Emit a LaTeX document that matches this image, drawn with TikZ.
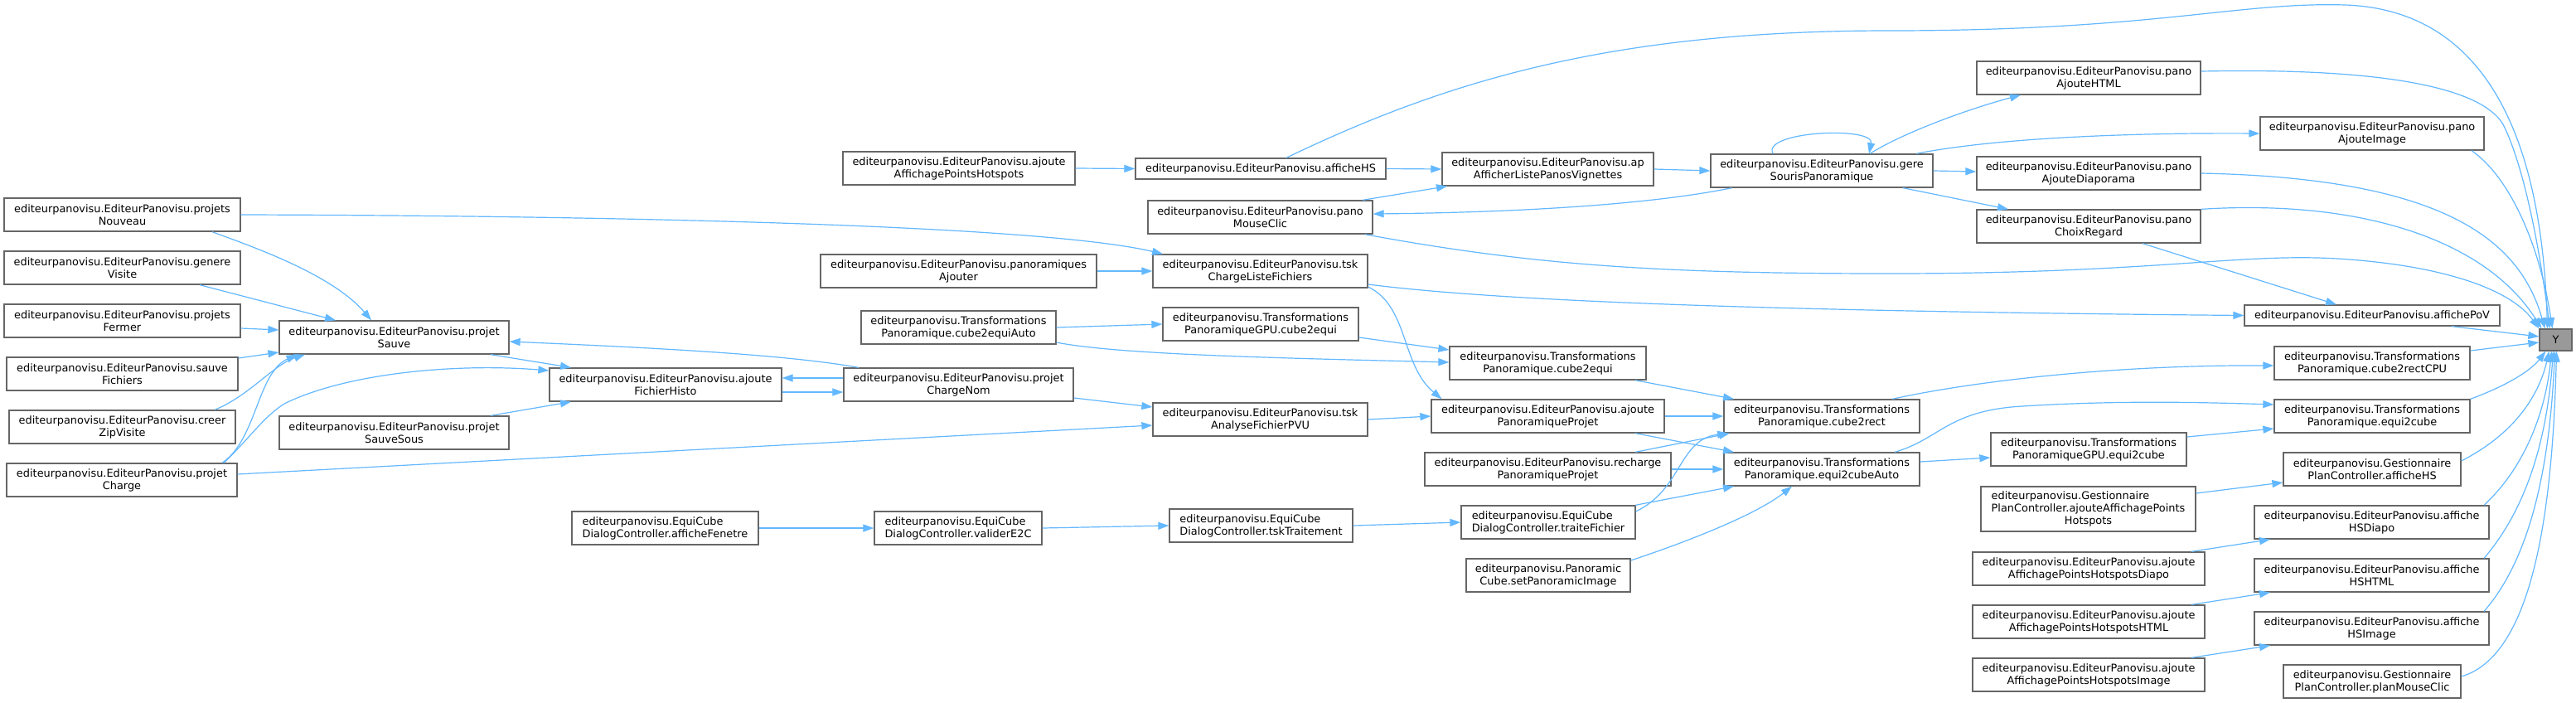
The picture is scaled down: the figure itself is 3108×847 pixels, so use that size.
\documentclass[tikz,border=0pt]{standalone}
\usepackage{fontspec}
\setmainfont{DejaVu Sans}
\usetikzlibrary{arrows.meta,calc}
\definecolor{edgeblue}{HTML}{63B8FF}
\definecolor{boxgray}{HTML}{666666}
\definecolor{ygray}{HTML}{999999}
\newcommand\epx{editeurpanovisu.EditeurPanovisu.}
\newcommand\tpx{editeurpanovisu.Transformations}
\begin{document}
\begin{tikzpicture}[x=1pt,y=-1pt,
  box/.style={draw=boxgray, line width=1.3pt, fill=white, inner sep=0pt,
    minimum height=40pt, align=center, font={\fontsize{12.9}{15}\selectfont}},
  lbox/.style={box, align=left},
  edge/.style={draw=edgeblue, line width=1.2pt, -{Triangle[length=13pt,width=9pt]}}]
\fill[white] (0,0) rectangle (3108,847);
\useasboundingbox (0,0) rectangle (3108,847);
% column 1
\node[box, minimum width=285pt] (nouveau) at (147.5,259) {\epx projets\\Nouveau};
\node[box, minimum width=285pt] (genere) at (147.5,323) {\epx genere\\Visite};
\node[box, minimum width=285pt] (fermer) at (147.5,387) {\epx projets\\Fermer};
\node[box, minimum width=279pt] (sauveF) at (147.5,451) {\epx sauve\\Fichiers};
\node[box, minimum width=273pt] (creer) at (147.5,515) {\epx creer\\ZipVisite};
\node[box, minimum width=278pt] (charge) at (147,579) {\epx projet\\Charge};
% column 2
\node[box, minimum width=277pt] (sauve) at (475.5,407) {\epx projet\\Sauve};
\node[box, minimum width=277pt] (sauveSous) at (475.5,522) {\epx projet\\SauveSous};
% column 3
\node[box, minimum width=280pt] (fhisto) at (803,464) {\epx ajoute\\FichierHisto};
\node[lbox, minimum width=225pt] (fenetre) at (802.5,637) {editeurpanovisu.EquiCube\\DialogController.afficheFenetre};
% column 4
\node[box, minimum width=280pt] (pointsHS) at (1157,203) {\epx ajoute\\AffichagePointsHotspots};
\node[box, minimum width=333pt] (panAjouter) at (1156.5,327) {\epx panoramiques\\Ajouter};
\node[box, minimum width=235pt] (c2eAuto) at (1156.5,395) {\tpx\\Panoramique.cube2equiAuto};
\node[box, minimum width=277pt] (chargeNom) at (1156.5,464) {\epx projet\\ChargeNom};
\node[lbox, minimum width=202pt] (valider) at (1156,637) {editeurpanovisu.EquiCube\\DialogController.validerE2C};
% column 5
\node[box, minimum width=302pt, minimum height=25pt] (afficheHS) at (1521,203.5) {\epx afficheHS};
\node[box, minimum width=271pt] (mouseClic) at (1520.5,262) {\epx pano\\MouseClic};
\node[box, minimum width=259pt] (tskCLF) at (1520.5,327) {\epx tsk\\ChargeListeFichiers};
\node[box, minimum width=236pt] (gpuC2E) at (1521,391) {\tpx\\PanoramiqueGPU.cube2equi};
\node[box, minimum width=259pt] (tskPVU) at (1520.5,506) {\epx tsk\\AnalyseFichierPVU};
\node[lbox, minimum width=221pt] (tskTrait) at (1521.5,634) {editeurpanovisu.EquiCube\\DialogController.tskTraitement};
% column 6
\node[box, minimum width=255pt] (apAff) at (1867.5,204) {\epx ap\\AfficherListePanosVignettes};
\node[box, minimum width=237pt] (c2e) at (1867.5,438) {\tpx\\Panoramique.cube2equi};
\node[box, minimum width=281pt] (ajPP) at (1867.5,502) {\epx ajoute\\PanoramiqueProjet};
\node[box, minimum width=297pt] (rechPP) at (1867.5,566) {\epx recharge\\PanoramiqueProjet};
\node[lbox, minimum width=210pt] (traite) at (1868,630) {editeurpanovisu.EquiCube\\DialogController.traiteFichier};
\node[box, minimum width=198pt] (setPI) at (1868,694) {editeurpanovisu.Panoramic\\Cube.setPanoramicImage};
% column 7
\node[box, minimum width=268pt] (gere) at (2198,206) {\epx gere\\SourisPanoramique};
\node[box, minimum width=236pt] (c2r) at (2198,502) {\tpx\\Panoramique.cube2rect};
\node[box, minimum width=236pt] (e2cAuto) at (2198,566) {\tpx\\Panoramique.equi2cubeAuto};
% column 8
\node[box, minimum width=270pt] (aHTML) at (2520,94) {\epx pano\\AjouteHTML};
\node[box, minimum width=270pt] (aDiap) at (2520,209) {\epx pano\\AjouteDiaporama};
\node[box, minimum width=270pt] (choix) at (2520,273) {\epx pano\\ChoixRegard};
\node[box, minimum width=236pt] (gpuE2C) at (2520,542) {\tpx\\PanoramiqueGPU.equi2cube};
\node[box, minimum width=259pt, minimum height=54pt] (gAjPts) at (2519.5,614) {\begin{tabular}{@{}l@{}}editeurpanovisu.Gestionnaire\\PlanController.ajouteAffichagePoints\\\multicolumn{1}{@{}c@{}}{Hotspots}\end{tabular}};
\node[box, minimum width=280pt] (ajDiapo) at (2520,686) {\epx ajoute\\AffichagePointsHotspotsDiapo};
\node[box, minimum width=280pt] (ajHTML) at (2520,750) {\epx ajoute\\AffichagePointsHotspotsHTML};
\node[box, minimum width=280pt] (ajImage) at (2520,814) {\epx ajoute\\AffichagePointsHotspotsImage};
% column 9
\node[box, minimum width=270pt] (aImage) at (2862,161) {\epx pano\\AjouteImage};
\node[box, minimum width=308pt, minimum height=25pt] (pov) at (2862,380.5) {\epx affichePoV};
\node[box, minimum width=236pt] (c2rCPU) at (2862,438) {\tpx\\Panoramique.cube2rectCPU};
\node[box, minimum width=236pt] (e2c) at (2862,502) {\tpx\\Panoramique.equi2cube};
\node[box, minimum width=214pt] (gAffHS) at (2862,566) {editeurpanovisu.Gestionnaire\\PlanController.afficheHS};
\node[box, minimum width=283pt] (hsDiapo) at (2861.5,630) {\epx affiche\\HSDiapo};
\node[box, minimum width=283pt] (hsHTML) at (2861.5,694) {\epx affiche\\HSHTML};
\node[box, minimum width=283pt] (hsImage) at (2861.5,758) {\epx affiche\\HSImage};
\node[box, minimum width=214pt] (planMC) at (2862,822) {editeurpanovisu.Gestionnaire\\PlanController.planMouseClic};
% target
\node[box, fill=ygray, minimum width=39pt, minimum height=26pt] (Y) at (3083.5,410) {Y};
% ---- edges ----
\draw[edge] ($(nouveau.south)+(108.5,0)$) .. controls (300,296) and (400,330) .. ($(sauve.north)+(-27.5,0)$);
\draw[edge] ($(genere.south)+(93.5,0)$) -- ($(sauve.north)+(-70.5,0)$);
\draw[edge] ($(fermer.east)+(0,9)$) -- ($(sauve.west)+(0,-9)$);
\draw[edge] ($(sauveF.east)+(0,-19)$) -- ($(sauve.west)+(0,18)$);
\draw[edge] ($(creer.north)+(111.5,0)$) .. controls (300,478) and (330,440) .. ($(sauve.south)+(-107.5,0)$);
\draw[edge] ($(charge.north)+(121,0)$) .. controls (310,530) and (310,450) .. ($(sauve.south)+(-117,0)$);
\draw[edge] ($(charge.north)+(123,0)$) .. controls (300,530) and (320,500) .. (345,486) .. controls (420,450) and (550,438) .. ($(fhisto.west)+(0,-17)$);
\draw[edge] ($(charge.east)+(0,-7)$) -- ($(tskPVU.west)+(0,7)$);
\draw[edge] (nouveau.east) .. controls (700,260) and (1250,270) .. ($(tskCLF.north)+(-117.5,0)$);
\draw[edge] ($(sauve.south)+(116.5,0)$) -- ($(fhisto.north)+(-114,0)$);
\draw[edge] ($(sauveSous.north)+(116.5,0)$) -- ($(fhisto.south)+(-114,0)$);
\draw[edge] ($(chargeNom.north)+(-120.5,0)$) .. controls (950,428) and (800,420) .. ($(sauve.east)+(0,5)$);
\draw[edge] ($(chargeNom.west)+(0,-8)$) -- ($(fhisto.east)+(0,-8)$);
\draw[edge] ($(fhisto.east)+(0,9)$) -- ($(chargeNom.west)+(0,9)$);
\draw[edge] ($(chargeNom.east)+(0,16)$) -- ($(tskPVU.west)+(0,-15)$);
\draw[edge] (fenetre.east) -- (valider.west);
\draw[edge] (valider.east) -- (tskTrait.west);
\draw[edge] (tskTrait.east) -- (traite.west);
\draw[edge] (pointsHS.east) -- (afficheHS.west);
\draw[edge] (panAjouter.east) -- (tskCLF.west);
\draw[edge] (c2eAuto.east) -- (gpuC2E.west);
\draw[edge] ($(c2eAuto.east)+(0,18)$) .. controls (1350,428) and (1550,432) .. ($(c2e.west)+(0,-1)$);
\draw[edge] ($(gpuC2E.east)+(0,16)$) -- ($(c2e.west)+(0,-16)$);
\draw[edge] (afficheHS.east) -- (apAff.west);
\draw[edge] ($(mouseClic.north)+(123.5,0)$) -- ($(apAff.south)+(-121.5,0)$);
\draw[edge] (apAff.east) -- (gere.west);
\draw[edge] ($(gere.south)+(-108.5,0)$) .. controls (2000,245) and (1850,256) .. ($(mouseClic.east)+(0,-4)$);
\draw[edge] ($(gere.north)+(-59,0)$) .. controls (2125,158) and (2262,152) .. ($(gere.north)+(57,0)$);
\draw[edge] ($(afficheHS.north)+(31,0)$) .. controls (1750,95) and (1950,37) .. (2280,37) .. controls (2600,37) and (2700,2) .. (2830,6) .. controls (2990,12) and (3066,150) .. ($(Y.north)+(-10,0)$);
\draw[edge] ($(gere.north)+(58,0)$) .. controls (2300,158) and (2380,130) .. ($(aHTML.south)+(-82,0)$);
\draw[edge] ($(gere.north)+(114,0)$) .. controls (2400,168) and (2550,160) .. (aImage.west);
\draw[edge] (gere.east) -- ($(aDiap.west)+(0,-2)$);
\draw[edge] ($(gere.south)+(98,0)$) -- ($(choix.north)+(-97,0)$);
\draw[edge] ($(aHTML.east)+(0,-8)$) .. controls (2850,82) and (2990,100) .. (3020,150) .. controls (3050,210) and (3068,330) .. ($(Y.north)+(-7,0)$);
\draw[edge] ($(aImage.south)+(120,0)$) .. controls (3030,215) and (3065,300) .. ($(Y.north)+(-4,0)$);
\draw[edge] (aDiap.east) .. controls (2950,215) and (3040,290) .. ($(Y.north)+(-13,0)$);
\draw[edge] (choix.north east) .. controls (2850,240) and (3000,290) .. ($(Y.north)+(-17,0)$);
\draw[edge] ($(choix.south)+(65,0)$) -- ($(pov.north)+(-43,0)$);
\draw[edge] ($(mouseClic.south)+(126,0)$) .. controls (1850,320) and (2000,330) .. (2280,330) .. controls (2600,330) and (2700,305) .. (2820,312) .. controls (2950,320) and (3030,350) .. (Y.north west);
\draw[edge] ($(tskCLF.east)+(0,16)$) .. controls (1800,362) and (2100,375) .. (pov.west);
\draw[edge] ($(tskCLF.east)+(0,19)$) .. controls (1700,370) and (1690,440) .. ($(ajPP.north)+(-128,0)$);
\draw[edge] ($(c2e.south)+(105.5,0)$) -- ($(c2r.north)+(-106,0)$);
\draw[edge] (ajPP.east) -- (c2r.west);
\draw[edge] ($(ajPP.south)+(105.5,0)$) -- ($(e2cAuto.north)+(-106,0)$);
\draw[edge] ($(rechPP.north)+(105.5,0)$) -- ($(c2r.south)+(-111,0)$);
\draw[edge] (rechPP.east) -- (e2cAuto.west);
\draw[edge] ($(traite.north)+(105,0)$) -- ($(e2cAuto.south)+(-106,0)$);
\draw[edge] ($(traite.east)+(0,-13)$) .. controls (2030,590) and (2025,530) .. ($(c2r.south)+(-113,0)$);
\draw[edge] ($(setPI.east)+(0,-18)$) .. controls (2040,652) and (2120,620) .. ($(e2cAuto.south)+(-36,0)$);
\draw[edge] ($(pov.south)+(96,0)$) -- ($(Y.west)+(0,-4)$);
\draw[edge] ($(c2rCPU.east)+(0,-15)$) -- ($(Y.west)+(0,3)$);
\draw[edge] ($(c2r.north)+(85,0)$) .. controls (2380,460) and (2550,440) .. ($(c2rCPU.west)+(0,3)$);
\draw[edge] ($(e2cAuto.north)+(88,0)$) .. controls (2340,530) and (2350,495) .. (2440,490) .. controls (2550,483) and (2650,485) .. ($(e2c.west)+(0,-14)$);
\draw[edge] ($(e2cAuto.east)+(0,-9)$) -- ($(gpuE2C.west)+(0,10)$);
\draw[edge] ($(gpuE2C.east)+(0,-15)$) -- ($(e2c.west)+(0,15)$);
\draw[edge] (e2c.north east) .. controls (3030,463) and (3055,445) .. ($(Y.south)+(-12,0)$);
\draw[edge] ($(gAffHS.east)+(0,-10)$) .. controls (3040,520) and (3065,470) .. ($(Y.south)+(-8,0)$);
\draw[edge] ($(gAjPts.east)+(0,-19)$) -- ($(gAffHS.west)+(0,16)$);
\draw[edge] ($(hsDiapo.north)+(135.5,0)$) .. controls (3050,560) and (3072,490) .. ($(Y.south)+(-5,0)$);
\draw[edge] ($(ajDiapo.north)+(124,0)$) -- ($(hsDiapo.south)+(-122.5,0)$);
\draw[edge] ($(hsHTML.north)+(135.5,0)$) .. controls (3060,600) and (3075,500) .. ($(Y.south)+(-3,0)$);
\draw[edge] ($(ajHTML.north)+(124,0)$) -- ($(hsHTML.south)+(-122.5,0)$);
\draw[edge] ($(hsImage.north)+(135.5,0)$) .. controls (3065,660) and (3078,520) .. ($(Y.south)+(-1,0)$);
\draw[edge] ($(ajImage.north)+(124,0)$) -- ($(hsImage.south)+(-122.5,0)$);
\draw[edge] ($(planMC.east)+(0,-6)$) .. controls (3060,790) and (3080,600) .. ($(Y.south)+(1,0)$);
\draw[edge] (tskPVU.east) -- (ajPP.west);
\end{tikzpicture}
\end{document}
